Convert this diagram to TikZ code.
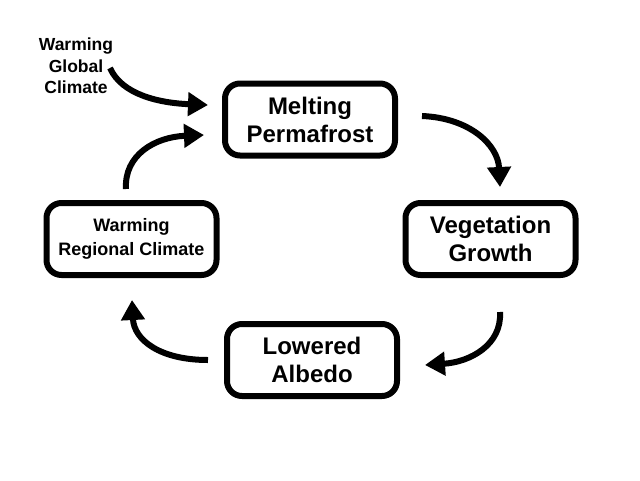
\documentclass[tikz,border=0pt]{standalone}
\usepackage{fontspec}
\setmainfont{Liberation Sans}
\usetikzlibrary{arrows.meta}

\begin{document}
\begin{tikzpicture}[x=1pt, y=-1pt,
  font=\bfseries,
  stage/.style={draw, line width=6pt, rounded corners=15pt, align=center,
    minimum width=170pt, minimum height=72pt, inner sep=0pt,
    font=\bfseries\fontsize{24}{28}\selectfont},
  smallstage/.style={stage, font=\bfseries\fontsize{18}{23.5}\selectfont},
  cause/.style={align=center, inner sep=0pt, font=\bfseries\fontsize{17.5}{21.5}\selectfont},
  loop/.style={-{Triangle[length=20pt,width=23pt]}, line width=6pt}
]
\useasboundingbox (0,0) rectangle (640,480);

\node[stage] (melting) at (310,119.5) {Melting\\Permafrost};
\node[stage] (vegetation) at (490.5,239) {Vegetation\\Growth};
\node[stage] (albedo) at (312,360) {Lowered\\Albedo};
\node[smallstage] (regional) at (131.5,239) {Warming\\Regional Climate};
\node[cause] (global) at (76,66) {Warming\\Global\\Climate};

% feedback loop
\coordinate (mstart) at (422,116);
\coordinate (vend) at (500,187);
\coordinate (vstart) at (500,312);
\coordinate (aend) at (425,365);
\coordinate (astart) at (208,360);
\coordinate (rend) at (132,300);
\coordinate (rstart) at (126,189);
\coordinate (mend) at (204,135);
\coordinate (gstart) at (110,68);
\coordinate (gend) at (208,105);

\draw[loop] (mstart) .. controls (470,118) and (498,145) .. (vend);
\draw[loop] (vstart) .. controls (502,345) and (470,362) .. (aend);
\draw[loop] (astart) .. controls (160,360) and (134,340) .. (rend);
\draw[loop] (rstart) .. controls (124,155) and (155,137) .. (mend);
\draw[loop] (gstart) .. controls (122,95) and (160,103) .. (gend);
\end{tikzpicture}
\end{document}
